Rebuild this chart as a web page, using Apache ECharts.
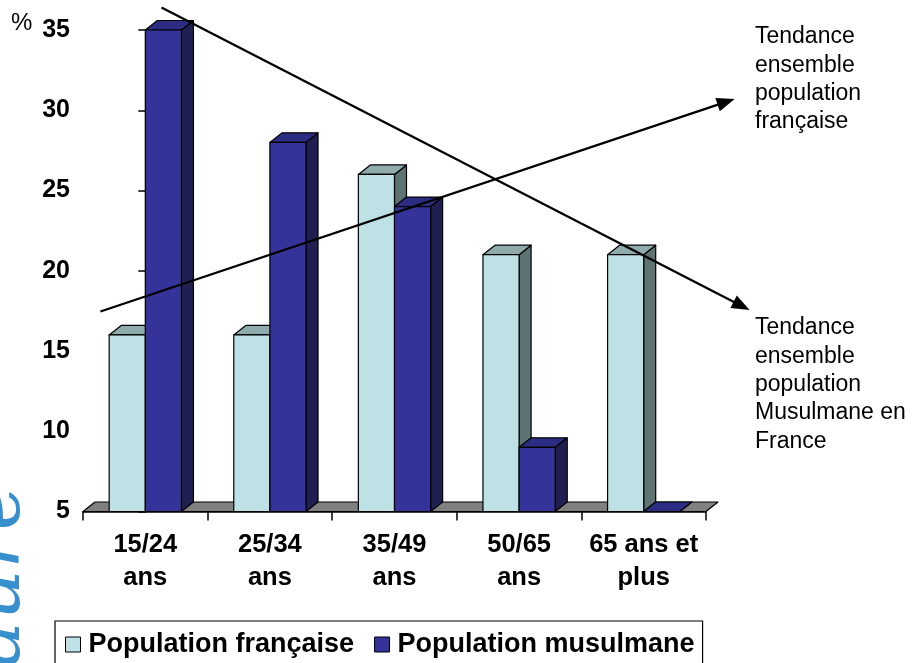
<!DOCTYPE html>
<html>
<head>
<meta charset="utf-8">
<script src="https://cdn.jsdelivr.net/npm/echarts@6/dist/echarts.min.js"></script>
<style>
  html, body { margin: 0; padding: 0; background: #ffffff; }
  #chart { width: 914px; height: 663px; }
</style>
</head>
<body>
<div id="chart"></div>
<script>
// Age groups on the horizontal axis
const categories = ['15/24\nans', '25/34\nans', '35/49\nans', '50/65\nans', '65 ans et\nplus'];
// Share of each age group, in %
const frenchShare = [16, 16, 26, 21, 21];
const muslimShare = [35, 28, 24, 9, 5];
// Vertical axis ticks
const yMin = 5, yMax = 35, yStep = 5;
// Trend arrows: [x start, y start, x tip, y tip] in category-index / % units
const trendFrench = [-0.36, 17.46, 4.73, 30.70];
const trendMuslim = [0.13, 36.40, 4.85, 17.55];
const seriesNames = ['Population française', 'Population musulmane'];

const FONT = '"Liberation Sans", Arial, Helvetica, sans-serif';
const DX = 12, DY = -9.5; // depth of the 3D extrusion

const palette = {
  french: { front: '#BDE1E4', top: '#8FABAD', side: '#5E7473' },
  muslim: { front: '#333399', top: '#2C2C82', side: '#1F1F52' }
};

const edge = { stroke: '#000', lineWidth: 1.2, lineJoin: 'round' };

function barRenderer(side, colors) {
  return function (params, api) {
    const idx = api.value(0);
    const top = api.coord([idx, api.value(1)]);
    const base = api.coord([idx, yMin]);
    const w = api.size([1, 0])[0] * 0.29;
    const x0 = side < 0 ? top[0] - w : top[0];
    const x1 = x0 + w;
    const yT = top[1], yB = base[1];
    return {
      type: 'group',
      children: [
        { type: 'polygon', shape: { points: [[x1, yB], [x1 + DX, yB + DY], [x1 + DX, yT + DY], [x1, yT]] },
          style: Object.assign({ fill: colors.side }, edge) },
        { type: 'polygon', shape: { points: [[x0, yT], [x0 + DX, yT + DY], [x1 + DX, yT + DY], [x1, yT]] },
          style: Object.assign({ fill: colors.top }, edge) },
        { type: 'rect', shape: { x: x0, y: yT, width: w, height: yB - yT },
          style: Object.assign({ fill: colors.front }, edge) }
      ]
    };
  };
}

function floorRenderer(params, api) {
  const a = api.coord([-0.5, yMin]);
  const b = api.coord([categories.length - 0.5, yMin]);
  return {
    type: 'polygon',
    shape: { points: [a, [a[0] + DX, a[1] + DY], [b[0] + DX, b[1] + DY], b] },
    style: Object.assign({ fill: '#808080' }, edge)
  };
}

function arrowRenderer(params, api) {
  const s = api.coord([api.value(0), api.value(1)]);
  const e = api.coord([api.value(2), api.value(3)]);
  const ang = Math.atan2(e[1] - s[1], e[0] - s[0]);
  const L = 18, W = 7;
  const bx = e[0] - L * Math.cos(ang), by = e[1] - L * Math.sin(ang);
  const px = -Math.sin(ang) * W, py = Math.cos(ang) * W;
  return {
    type: 'group',
    children: [
      { type: 'line', shape: { x1: s[0], y1: s[1], x2: bx + 2 * Math.cos(ang), y2: by + 2 * Math.sin(ang) },
        style: { stroke: '#000', lineWidth: 2.3 } },
      { type: 'polygon', shape: { points: [e, [bx + px, by + py], [bx - px, by - py]] },
        style: { fill: '#000' } }
    ]
  };
}

const chart = echarts.init(document.getElementById('chart'), null, { renderer: 'canvas' });

chart.setOption({
  animation: false,
  backgroundColor: '#ffffff',
  textStyle: { fontFamily: FONT },
  grid: { left: 83, top: 30, width: 623, height: 481.5, containLabel: false },
  xAxis: [
    {
      type: 'category',
      data: categories,
      boundaryGap: true,
      axisLine: { show: true, lineStyle: { color: '#000', width: 1.5 } },
      axisTick: { show: true, interval: 0, length: 9, lineStyle: { color: '#000', width: 1.5 } },
      axisLabel: { interval: 0, color: '#000', fontFamily: FONT, fontWeight: 'bold', fontSize: 25.5, lineHeight: 33, margin: 17 },
      splitLine: { show: false }
    },
    {
      type: 'value',
      min: -0.5,
      max: categories.length - 0.5,
      show: false
    }
  ],
  yAxis: {
    type: 'value',
    min: yMin,
    max: yMax,
    interval: yStep,
    axisLine: { show: true, lineStyle: { color: '#000', width: 2 } },
    axisTick: { show: true, length: 7, lineStyle: { color: '#000', width: 1.5 } },
    axisLabel: { color: '#000', fontFamily: FONT, fontWeight: 'bold', fontSize: 25, margin: 13 },
    splitLine: { show: false }
  },
  legend: {
    data: seriesNames,
    left: 55,
    top: 621,
    icon: 'rect',
    itemWidth: 15,
    itemHeight: 15,
    itemGap: 20,
    borderColor: '#000',
    borderWidth: 1.2,
    padding: [10, 8, 20, 10],
    itemStyle: { borderColor: '#000', borderWidth: 1 },
    textStyle: { fontFamily: FONT, fontWeight: 'bold', fontSize: 27, color: '#000', padding: [0, 0, 0, 3] }
  },
  graphic: [
    { type: 'text', left: 11, top: 11, silent: true,
      style: { text: '%', font: '24px ' + FONT, fill: '#000' } },
    { type: 'text', x: 755, y: 23, silent: true,
      style: { text: 'Tendance\nensemble\npopulation\nfrançaise', font: '23px ' + FONT, lineHeight: 28.3, fill: '#000' } },
    { type: 'text', x: 755, y: 314, silent: true,
      style: { text: 'Tendance\nensemble\npopulation\nMusulmane en\nFrance', font: '23px ' + FONT, lineHeight: 28.3, fill: '#000' } },
    { type: 'text', x: 38, y: 668, rotation: Math.PI / 2, silent: true, z: -1,
      style: { text: 'aure', font: 'italic 80px "DejaVu Serif", serif', fill: '#2283c8', opacity: 0.9,
               textAlign: 'left', textVerticalAlign: 'bottom' } }
  ],
  series: [
    {
      name: 'floor', type: 'custom', xAxisIndex: 1, yAxisIndex: 0, silent: true,
      renderItem: floorRenderer, data: [[0, yMin]], encode: { x: 0, y: 1 }
    },
    {
      name: seriesNames[0], type: 'custom', xAxisIndex: 0, yAxisIndex: 0,
      itemStyle: { color: palette.french.front, borderColor: '#000', borderWidth: 1 },
      renderItem: barRenderer(-1, palette.french),
      data: frenchShare.map((v, i) => [i, v]), encode: { x: 0, y: 1 }
    },
    {
      name: seriesNames[1], type: 'custom', xAxisIndex: 0, yAxisIndex: 0,
      itemStyle: { color: palette.muslim.front, borderColor: '#000', borderWidth: 1 },
      renderItem: barRenderer(1, palette.muslim),
      data: muslimShare.map((v, i) => [i, v]), encode: { x: 0, y: 1 }
    },
    {
      name: 'trends', type: 'custom', xAxisIndex: 1, yAxisIndex: 0, silent: true, z: 5,
      renderItem: arrowRenderer, data: [trendFrench, trendMuslim], encode: { x: [0, 2], y: [1, 3] }
    }
  ]
});
</script>
</body>
</html>
